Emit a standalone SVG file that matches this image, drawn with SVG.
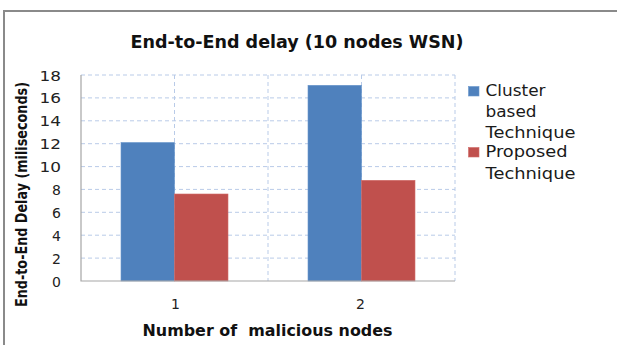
<svg xmlns="http://www.w3.org/2000/svg" width="617" height="345" viewBox="0 0 617 345">
<style>
.grid{stroke:#b9cbe8;stroke-width:1;stroke-dasharray:4,3;fill:none}
.axis{stroke:#a6a6a6;stroke-width:1.2;fill:none}
.tick{font-family:"DejaVu Sans",sans-serif;font-size:14px;fill:#222;text-anchor:end}
.cat{font-family:"DejaVu Sans",sans-serif;font-size:14px;fill:#222;text-anchor:middle}
.leg{font-family:"DejaVu Sans",sans-serif;font-size:15px;fill:#1a1a1a}
.bold{font-family:"DejaVu Sans","Liberation Sans",sans-serif;font-weight:bold;fill:#111}
.blue{fill:#4f81bd;stroke:#6a96cc;stroke-width:0.6}
.red{fill:#c0504d;stroke:#d06b68;stroke-width:0.6}
</style>
<rect width="617" height="345" fill="#ffffff"/>
<path d="M4,345 V11 H617" fill="none" stroke="#8a8a8a" stroke-width="2"/>
<g id="title">
<text class="bold" x="130.5" y="47.5" font-size="17" textLength="333" lengthAdjust="spacingAndGlyphs">End-to-End delay (10 nodes WSN)</text>
</g>
<g id="grid">
<path class="grid" d="M81,75H455M81,97.9H455M81,120.8H455M81,143.7H455M81,166.6H455M81,189.4H455M81,212.3H455M81,235.2H455M81,258.1H455"/>
<path class="grid" d="M174.5,75V281M268,75V281M361.5,75V281M455,75V281"/>
</g>
<g id="bars">
<rect id="bar-cluster-1" class="blue" x="121" y="142.5" width="53.5" height="138.5"/>
<rect id="bar-proposed-1" class="red" x="174.5" y="194" width="53.5" height="87"/>
<rect id="bar-cluster-2" class="blue" x="308" y="85.3" width="53.5" height="195.7"/>
<rect id="bar-proposed-2" class="red" x="361.5" y="180.3" width="53.5" height="100.7"/>
</g>
<g id="axes">
<path class="axis" d="M81,75V281H455"/>
</g>
<g id="y-ticks">
<text class="tick" x="61" y="80.5" textLength="21.5" lengthAdjust="spacingAndGlyphs">18</text>
<text class="tick" x="61" y="103.4" textLength="21.5" lengthAdjust="spacingAndGlyphs">16</text>
<text class="tick" x="61" y="126.3" textLength="21.5" lengthAdjust="spacingAndGlyphs">14</text>
<text class="tick" x="61" y="149.2" textLength="21.5" lengthAdjust="spacingAndGlyphs">12</text>
<text class="tick" x="61" y="172.1" textLength="21.5" lengthAdjust="spacingAndGlyphs">10</text>
<text class="tick" x="61" y="194.9">8</text>
<text class="tick" x="61" y="217.8">6</text>
<text class="tick" x="61" y="240.7">4</text>
<text class="tick" x="61" y="263.6">2</text>
<text class="tick" x="61" y="286.5">0</text>
</g>
<g id="y-title">
<text class="bold" transform="translate(27,194.5) rotate(-90)" x="0" y="0" font-size="16" text-anchor="middle" textLength="225" lengthAdjust="spacingAndGlyphs" font-family="'Liberation Sans',sans-serif">End-to-End Delay (miliseconds)</text>
</g>
<g id="x-ticks">
<text class="cat" x="175.5" y="309">1</text>
<text class="cat" x="360.5" y="309">2</text>
</g>
<g id="x-title">
<text class="bold" x="142.5" y="336" font-size="15" textLength="250" lengthAdjust="spacingAndGlyphs" xml:space="preserve">Number of  malicious nodes</text>
</g>
<g id="legend">
<rect class="blue" x="468.5" y="86.5" width="10.5" height="9.5"/>
<text class="leg" x="485.5" y="95.5" textLength="60" lengthAdjust="spacingAndGlyphs">Cluster</text>
<text class="leg" x="485.5" y="116.5" textLength="51" lengthAdjust="spacingAndGlyphs">based</text>
<text class="leg" x="485.5" y="138" textLength="90" lengthAdjust="spacingAndGlyphs">Technique</text>
<rect class="red" x="468.5" y="147.5" width="10.5" height="9.5"/>
<text class="leg" x="485.5" y="157" textLength="82" lengthAdjust="spacingAndGlyphs">Proposed</text>
<text class="leg" x="485.5" y="178.5" textLength="90" lengthAdjust="spacingAndGlyphs">Technique</text>
</g>
</svg>
